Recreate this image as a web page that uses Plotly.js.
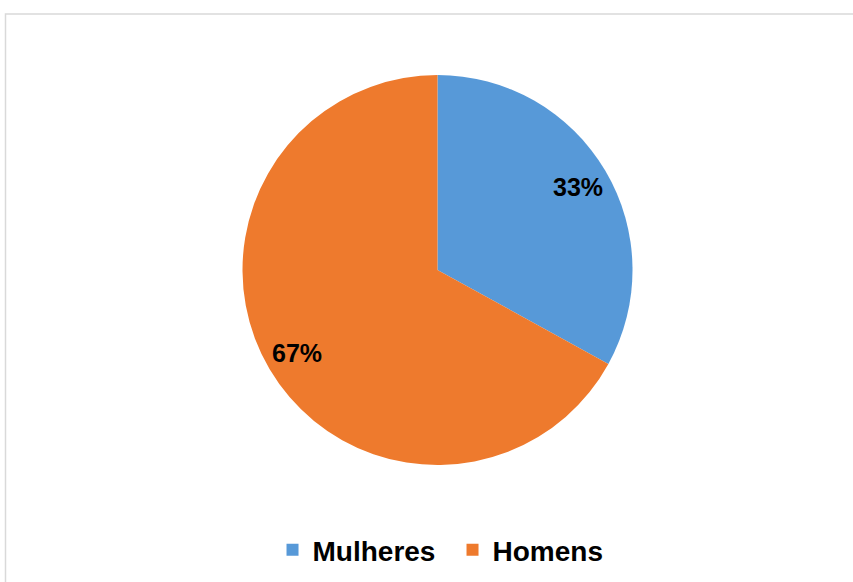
<!DOCTYPE html>
<html>
<head>
<meta charset="utf-8">
<script src="https://cdn.plot.ly/plotly-3.0.1.min.js"></script>
<style>html,body{margin:0;padding:0;background:#fff;}#chart{width:853px;height:582px;}</style>
</head>
<body>
<div id="chart"></div>
<script>
const categories = ["Mulheres", "Homens"];
const values = [33, 67];
const colors = ["#5799D8", "#EE7A2D"];

const W = 853, H = 582;
const cx = 437.5, cy = 270, R = 195;

const total = values.reduce((a, b) => a + b, 0);
const annotations = [];
let cum = 0;
values.forEach((v, i) => {
  const theta = 2 * Math.PI * (cum + v / 2) / total;
  cum += v;
  const px = cx + R * 0.84 * Math.sin(theta);
  const py = cy - R * 0.84 * Math.cos(theta);
  annotations.push({
    x: px / W, y: 1 - py / H, xref: 'paper', yref: 'paper',
    xanchor: 'center', yanchor: 'middle',
    text: Math.round(v / total * 100) + '%', showarrow: false,
    font: {family: 'Liberation Sans, Arial, sans-serif', size: 25, color: '#000', weight: 'bold'}
  });
});

const trace = {
  type: 'pie',
  labels: categories,
  values: values,
  sort: false,
  direction: 'clockwise',
  rotation: 0,
  textinfo: 'none',
  hoverinfo: 'none',
  marker: {colors: colors, line: {width: 0}},
  domain: {x: [(cx - R) / W, (cx + R) / W], y: [1 - (cy + R) / H, 1 - (cy - R) / H]}
};

const layout = {
  width: W, height: H,
  margin: {l: 0, r: 0, t: 0, b: 0},
  paper_bgcolor: '#ffffff',
  showlegend: true,
  legend: {
    orientation: 'h', x: 0.5305, xanchor: 'center', y: 1 - 550 / H, yanchor: 'middle',
    font: {family: 'Liberation Sans, Arial, sans-serif', size: 28, color: '#000', weight: 'bold'},
    itemwidth: 30, traceorder: 'normal', entrywidth: 135, entrywidthmode: 'pixels'
  },
  annotations: annotations,
  shapes: [{
    type: 'rect', xref: 'paper', yref: 'paper',
    x0: 5.5 / W, x1: 1.02, y0: -0.02, y1: 1 - 14 / H,
    line: {color: '#d9d9d9', width: 1.5}
  }]
};

Plotly.newPlot('chart', [trace], layout, {displayModeBar: false, staticPlot: true});
</script>
</body>
</html>
